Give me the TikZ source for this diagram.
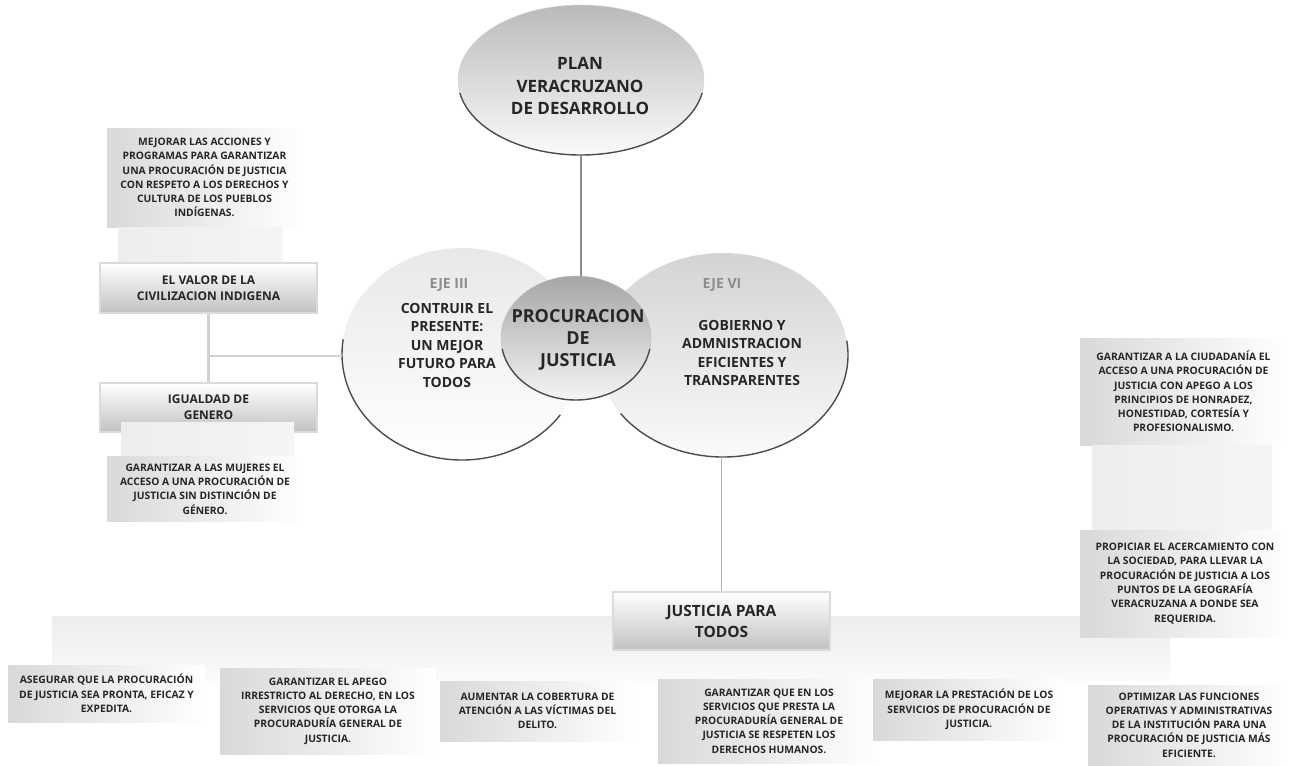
\documentclass[tikz,border=0pt]{standalone}
\usepackage{fontspec}
\setmainfont{Open Sans}
\usetikzlibrary{shapes.geometric}
\definecolor{tx}{HTML}{262626}
\definecolor{lbl}{HTML}{8C8C8C}
\begin{document}
\begin{tikzpicture}[x=1pt,y=1pt,
  small/.style={align=center, inner sep=0pt, text=tx, font=\fontsize{10.3}{14.3}\selectfont\bfseries},
  gbox/.style 2 args={small, rectangle, left color=black!15, right color=white, minimum width=#1pt, minimum height=#2pt},
  hbox/.style 2 args={align=center, inner sep=0pt, text=tx, font=\fontsize{12}{16}\selectfont\bfseries, rectangle, top color=white, bottom color=black!24, draw=black!14, line width=1.5pt, minimum width=#1pt, minimum height=#2pt},
  ell/.style={ellipse, inner sep=0pt, draw=none, align=center, text=tx},
  mid/.style={align=center, inner sep=0pt, text=tx, font=\fontsize{14}{18.5}\selectfont\bfseries},
  rim/.style={draw=black!70, line width=1.4pt},
  conn/.style={draw=black!45, line width=1.8pt},
  lconn/.style={draw=black!18, line width=2.4pt},
  pale/.style={left color=black!7, right color=black!4}
]
\useasboundingbox (0,0) rectangle (1297,-765);
\fill[white] (0,0) rectangle (1297,-765);

% ---------- left column ----------
\node[gbox={195}{99}] (mej) at (204.5,-177.5) {MEJORAR LAS ACCIONES Y\\PROGRAMAS PARA GARANTIZAR\\UNA PROCURACIÓN DE JUSTICIA\\CON RESPETO A LOS DERECHOS Y\\CULTURA DE LOS PUEBLOS\\INDÍGENAS.};
\shade[pale] (118,-227) rectangle (283,-263);
\node[hbox={217}{50}] (valor) at (208.5,-288) {EL VALOR DE LA\\CIVILIZACION INDIGENA};
\node[hbox={217}{49}] (igual) at (208.5,-407.5) {IGUALDAD DE\\GENERO};
\shade[pale] (121,-422) rectangle (294,-455);
\node[gbox={196}{65}] (muj) at (205,-489) {GARANTIZAR A LAS MUJERES EL\\ACCESO A UNA PROCURACIÓN DE\\JUSTICIA SIN DISTINCIÓN DE\\GÉNERO.};

% ---------- ellipses ----------
\node[ell, minimum width=240pt, minimum height=212pt, top color=black!9, bottom color=white] (eje3) at (462,-354) {};
\draw[rim] (eje3.center) ++(172:120 and 106) arc[start angle=172, end angle=325, x radius=120, y radius=106];
\node[ell, minimum width=250pt, minimum height=204pt, top color=black!17, bottom color=black!2] (eje6) at (723,-355) {};
\draw[rim] (eje6.center) ++(215:125 and 102) arc[start angle=215, end angle=368, x radius=125, y radius=102];

\node[ell, draw=black!18, line width=0.4pt, minimum width=246pt, minimum height=150pt, top color=black!27, bottom color=black!2] (plan) at (581,-80) {};
\draw[rim] (plan.center) ++(190:123 and 75) arc[start angle=190, end angle=350, x radius=123, y radius=75];
\node[align=center, inner sep=0pt, text=tx, font=\fontsize{17}{22.5}\selectfont\bfseries] (plantxt) at (580,-86) {PLAN\\VERACRUZANO\\DE DESARROLLO};

\coordinate (jn) at (207,-356);
\draw[lconn] (valor.south) -- (igual.north);
\draw[lconn] (jn) -- (jn -| eje3.west);
\draw[conn] (plan.south) -- (plan.south |- 0,-280);

\node[ell, draw=black!25, line width=0.4pt, minimum width=150pt, minimum height=124pt, top color=black!35, bottom color=black!4] (proc) at (576,-338) {};
\draw[rim] (proc.center) ++(190:75 and 62) arc[start angle=190, end angle=350, x radius=75, y radius=62];
\node[align=center, inner sep=0pt, text=tx, font=\fontsize{18}{22}\selectfont\bfseries] (proctxt) at (578,-340) {PROCURACION\\DE\\JUSTICIA};

\node[mid, text=lbl] (l3) at (449,-285) {EJE III};
\node[mid] (t3) at (447,-345) {CONTRUIR EL\\PRESENTE:\\UN MEJOR\\FUTURO PARA\\TODOS};
\node[mid, text=lbl] (l6) at (722,-285) {EJE VI};
\node[mid] (t6) at (742,-353) {GOBIERNO Y\\ADMNISTRACION\\EFICIENTES Y\\TRANSPARENTES};

% ---------- right column ----------
\node[gbox={207}{107}] (ciud) at (1183.5,-391.5) {GARANTIZAR A LA CIUDADANÍA EL\\ACCESO A UNA PROCURACIÓN DE\\JUSTICIA CON APEGO A LOS\\PRINCIPIOS DE HONRADEZ,\\HONESTIDAD, CORTESÍA Y\\PROFESIONALISMO.};
\shade[pale] (1092,-445) rectangle (1272,-530);

% ---------- bottom ----------
\shade[top color=black!7, bottom color=black!2] (52,-616) rectangle (1170,-680);
\node[gbox={210}{107}] (prop) at (1185,-583.5) {PROPICIAR EL ACERCAMIENTO CON\\LA SOCIEDAD, PARA LLEVAR LA\\PROCURACIÓN DE JUSTICIA A LOS\\PUNTOS DE LA GEOGRAFÍA\\VERACRUZANA A DONDE SEA\\REQUERIDA.};
\node[hbox={217}{58}, font=\fontsize{15.5}{21}\selectfont\bfseries] (just) at (721.5,-621) {JUSTICIA PARA\\TODOS};
\draw[conn, draw=black!30] (just.north) -- (just.north |- eje6.south);

\node[gbox={197}{57}] (aseg) at (106.5,-693.5) {ASEGURAR QUE LA PROCURACIÓN\\DE JUSTICIA SEA PRONTA, EFICAZ Y\\EXPEDITA.};
\node[gbox={216}{86}] (apego) at (328,-711) {GARANTIZAR EL APEGO\\IRRESTRICTO AL DERECHO, EN LOS\\SERVICIOS QUE OTORGA LA\\PROCURADURÍA GENERAL DE\\JUSTICIA.};
\node[gbox={195}{60}] (aum) at (537.5,-711) {AUMENTAR LA COBERTURA DE\\ATENCIÓN A LAS VÍCTIMAS DEL\\DELITO.};
\node[gbox={222}{84}] (dh) at (769,-721) {GARANTIZAR QUE EN LOS\\SERVICIOS QUE PRESTA LA\\PROCURADURÍA GENERAL DE\\JUSTICIA SE RESPETEN LOS\\DERECHOS HUMANOS.};
\node[gbox={192}{61}] (mejp) at (969,-709.5) {MEJORAR LA PRESTACIÓN DE LOS\\SERVICIOS DE PROCURACIÓN DE\\JUSTICIA.};
\node[gbox={202}{80}] (opt) at (1189,-725) {OPTIMIZAR LAS FUNCIONES\\OPERATIVAS Y ADMINISTRATIVAS\\DE LA INSTITUCIÓN PARA UNA\\PROCURACIÓN DE JUSTICIA MÁS\\EFICIENTE.};
\end{tikzpicture}
\end{document}
